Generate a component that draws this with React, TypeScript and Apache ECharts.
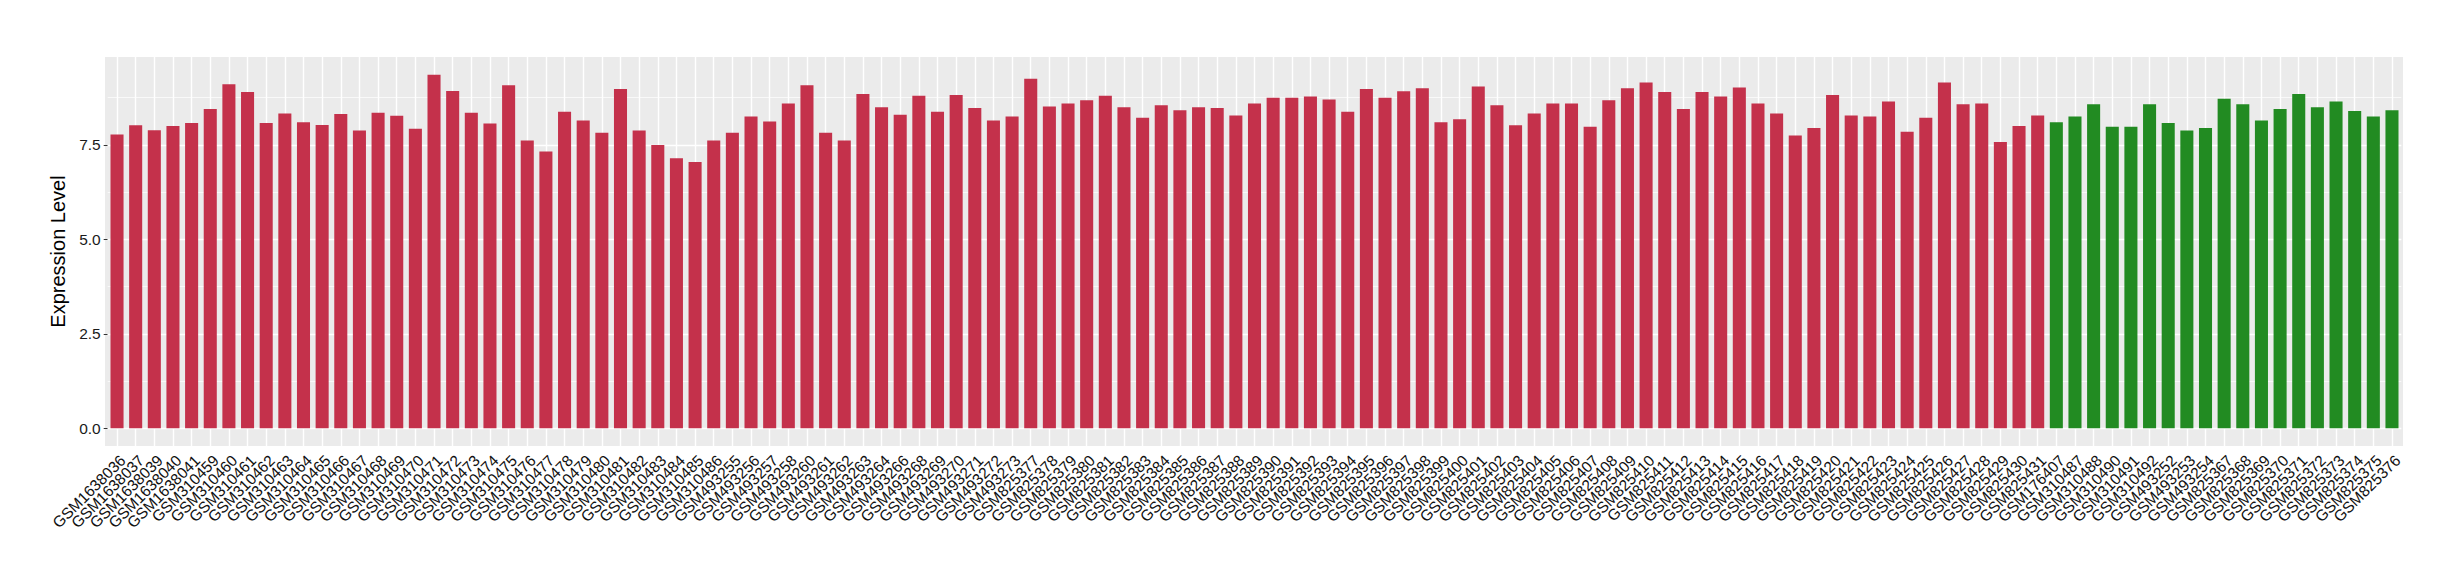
import React, { useEffect, useRef } from "react";
import * as echarts from "echarts";

const tumorSamples = [
  "GSM1638036", "GSM1638037", "GSM1638039", "GSM1638040", "GSM1638041",
  "GSM310459", "GSM310460", "GSM310461", "GSM310462", "GSM310463", "GSM310464", "GSM310465",
  "GSM310466", "GSM310467", "GSM310468", "GSM310469", "GSM310470", "GSM310471", "GSM310472",
  "GSM310473", "GSM310474", "GSM310475", "GSM310476", "GSM310477", "GSM310478", "GSM310479",
  "GSM310480", "GSM310481", "GSM310482", "GSM310483", "GSM310484", "GSM310485", "GSM310486",
  "GSM493255", "GSM493256", "GSM493257", "GSM493258", "GSM493260", "GSM493261", "GSM493262",
  "GSM493263", "GSM493264", "GSM493266", "GSM493268", "GSM493269", "GSM493270", "GSM493271",
  "GSM493272", "GSM493273",
  "GSM825377", "GSM825378", "GSM825379", "GSM825380", "GSM825381", "GSM825382", "GSM825383",
  "GSM825384", "GSM825385", "GSM825386", "GSM825387", "GSM825388", "GSM825389", "GSM825390",
  "GSM825391", "GSM825392", "GSM825393", "GSM825394", "GSM825395", "GSM825396", "GSM825397",
  "GSM825398", "GSM825399", "GSM825400", "GSM825401", "GSM825402", "GSM825403", "GSM825404",
  "GSM825405", "GSM825406", "GSM825407", "GSM825408", "GSM825409", "GSM825410", "GSM825411",
  "GSM825412", "GSM825413", "GSM825414", "GSM825415", "GSM825416", "GSM825417", "GSM825418",
  "GSM825419", "GSM825420", "GSM825421", "GSM825422", "GSM825423", "GSM825424", "GSM825425",
  "GSM825426", "GSM825427", "GSM825428", "GSM825429", "GSM825430", "GSM825431",
];

const tumorValues = [
  7.78, 8.02, 7.89, 8.0, 8.08,
  8.45, 9.11, 8.9, 8.08, 8.33, 8.1, 8.03,
  8.32, 7.88, 8.35, 8.27, 7.93, 9.36, 8.93,
  8.35, 8.07, 9.08, 7.62, 7.33, 8.38, 8.15,
  7.82, 8.98, 7.88, 7.5, 7.15, 7.05, 7.62,
  7.82, 8.25, 8.12, 8.6, 9.08, 7.82, 7.62,
  8.85, 8.5, 8.3, 8.8, 8.38, 8.82, 8.48,
  8.15, 8.25,
  9.25, 8.52, 8.6, 8.68, 8.8, 8.5, 8.22,
  8.55, 8.42, 8.5, 8.48, 8.28, 8.6, 8.75,
  8.75, 8.78, 8.7, 8.38, 8.98, 8.75, 8.92,
  9.0, 8.1, 8.18, 9.05, 8.55, 8.02, 8.33,
  8.6, 8.6, 7.98, 8.68, 9.0, 9.15, 8.9,
  8.45, 8.9, 8.78, 9.02, 8.6, 8.33, 7.75,
  7.95, 8.82, 8.28, 8.25, 8.65, 7.85, 8.22,
  9.15, 8.58, 8.6, 7.58, 8.0, 8.28,
];

const normalSamples = [
  "GSM176407", "GSM310487", "GSM310488", "GSM310490", "GSM310491", "GSM310492",
  "GSM493252", "GSM493253", "GSM493254",
  "GSM825367", "GSM825368", "GSM825369", "GSM825370", "GSM825371", "GSM825372",
  "GSM825373", "GSM825374", "GSM825375", "GSM825376",
];

const normalValues = [
  8.1, 8.25, 8.58, 7.98, 7.98, 8.58,
  8.08, 7.88, 7.95,
  8.72, 8.58, 8.15, 8.45, 8.85, 8.5,
  8.65, 8.4, 8.25, 8.42,
];

const yTicks = [0, 2.5, 5, 7.5];
const yMinorTicks = [1.25, 3.75, 6.25, 8.75];

const TUMOR_COLOR = "#C4314B";
const NORMAL_COLOR = "#228B22";

export default function App() {
  const ref = useRef<HTMLDivElement>(null);

  useEffect(() => {
    if (!ref.current) return;
    const chart = echarts.init(ref.current, undefined, { renderer: "svg" });

    const categories = [...tumorSamples, ...normalSamples];
    const barData = [
      ...tumorValues.map((v) => ({ value: v, itemStyle: { color: TUMOR_COLOR } })),
      ...normalValues.map((v) => ({ value: v, itemStyle: { color: NORMAL_COLOR } })),
    ];
    const dataMax = Math.max(...tumorValues, ...normalValues);
    const yMin = -0.05 * dataMax;
    const yMax = 1.05 * dataMax;

    const gridLines: any[] = [
      ...yMinorTicks.map((v) => ({ yAxis: v, lineStyle: { color: "#FFFFFF", width: 0.7, type: "solid" } })),
      ...yTicks.map((v) => ({ yAxis: v, lineStyle: { color: "#FFFFFF", width: 1.4, type: "solid" } })),
      ...categories.map((c) => ({ xAxis: c, lineStyle: { color: "#FFFFFF", width: 1.4, type: "solid" } })),
    ];

    const font = "'Liberation Sans', Arial, Helvetica, sans-serif";

    chart.setOption({
      animation: false,
      backgroundColor: "#FFFFFF",
      textStyle: { fontFamily: font },
      graphic: {
        elements: [
          {
            type: "rect",
            z: -10,
            silent: true,
            shape: { x: 105, y: 57, width: 2298, height: 389 },
            style: { fill: "#EBEBEB" },
          },
        ],
      },
      grid: { left: 107.7, right: 58.7, top: 57, bottom: 134, containLabel: false },
      xAxis: {
        type: "category",
        data: categories,
        boundaryGap: true,
        axisLine: { show: false },
        axisTick: {
          show: true,
          alignWithLabel: true,
          interval: 0,
          length: 4,
          lineStyle: { color: "#333333", width: 1 },
        },
        axisLabel: {
          interval: 0,
          rotate: 45,
          margin: 6,
          verticalAlign: "top",
          fontSize: 15.5,
          fontFamily: font,
          color: "#111111",
        },
        splitLine: { show: false },
      },
      yAxis: {
        type: "value",
        min: yMin,
        max: yMax,
        axisLine: { show: false },
        axisTick: {
          show: true,
          customValues: yTicks,
          length: 4,
          lineStyle: { color: "#333333", width: 1 },
        },
        axisLabel: {
          customValues: yTicks,
          formatter: (v: number) => v.toFixed(1),
          fontSize: 15.5,
          fontFamily: font,
          color: "#1A1A1A",
          margin: 7,
        },
        splitLine: { show: false },
        minorSplitLine: { show: false },
        name: "Expression Level",
        nameLocation: "middle",
        nameGap: 25,
        nameTextStyle: { fontSize: 20, color: "#000000", fontFamily: font },
      },
      series: [
        {
          type: "bar",
          data: barData,
          barWidth: "70%",
          z: 2,
          markLine: {
            z: 1,
            silent: true,
            symbol: "none",
            label: { show: false },
            animation: false,
            data: gridLines,
          },
        },
      ],
    });

    return () => chart.dispose();
  }, []);

  return (
    <div
      ref={ref}
      style={{ position: "absolute", left: 0, top: 0, width: 2460, height: 580 }}
    />
  );
}
